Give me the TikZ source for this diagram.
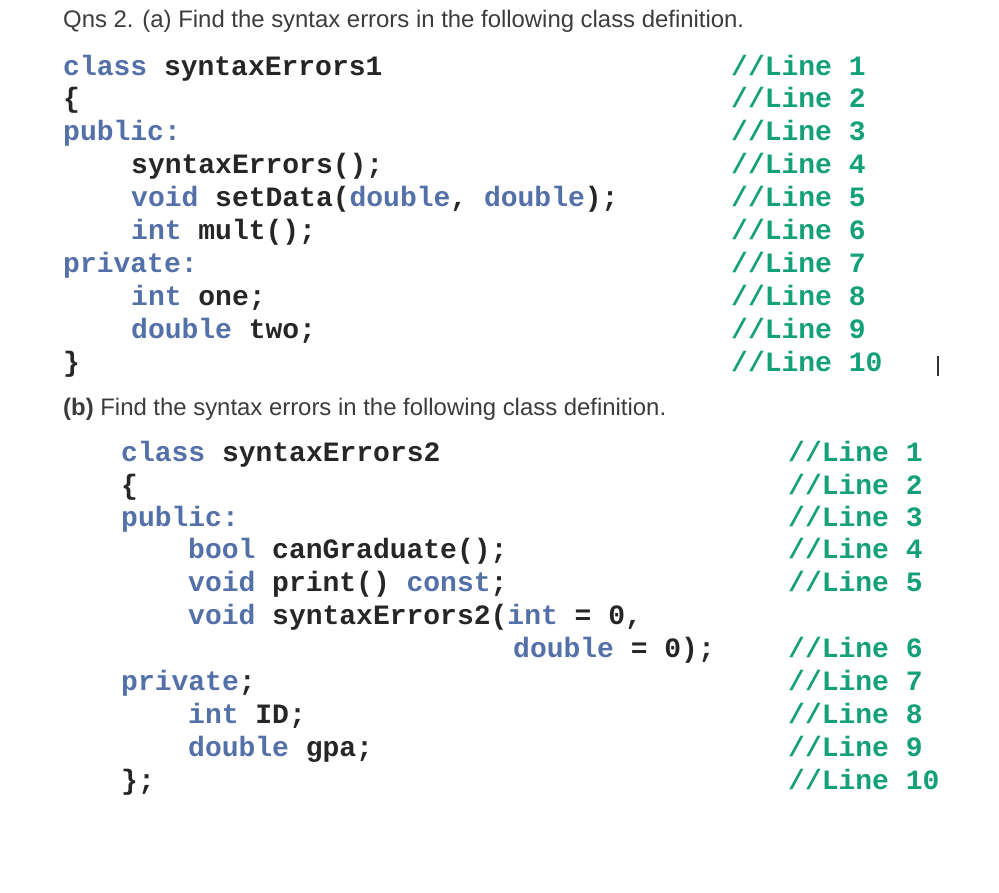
\documentclass[tikz,border=0pt]{standalone}
\usepackage{fontspec}
\setmainfont{Liberation Sans}
\setmonofont{Liberation Mono}
\definecolor{kw}{RGB}{84,112,168}
\definecolor{cm}{RGB}{20,160,120}
\definecolor{hd}{RGB}{60,60,60}
\newcommand{\kw}[1]{\textcolor{kw}{#1}}
\tikzset{code/.style={anchor=base west,inner sep=0pt,text=black!85,font=\fontsize{28}{28}\ttfamily\bfseries},
 cmt/.style={code,text=cm},
 head/.style={anchor=base west,inner sep=0pt,font=\fontsize{23.9}{24}\selectfont,text=hd}}
\begin{document}
\begin{tikzpicture}[x=1pt,y=-1pt]
\useasboundingbox[fill=white] (0,0) rectangle (999,893);
\node[head] (h1) at (63,28) {Qns 2. (a) Find the syntax errors in the following class definition.};
\def\d{8}
\node[code] (a1) at (63,68+\d) {\kw{class} syntaxErrors1};
\node[code] (a2) at (63,100+\d) {\{};
\node[code] (a3) at (63,133+\d) {\kw{public:}};
\node[code] (a4) at (131,166+\d) {syntaxErrors();};
\node[code] (a5) at (131,199+\d) {\kw{void} setData(\kw{double}, \kw{double});};
\node[code] (a6) at (131,232+\d) {\kw{int} mult();};
\node[code] (a7) at (63,265+\d) {\kw{private:}};
\node[code] (a8) at (131,298+\d) {\kw{int} one;};
\node[code] (a9) at (131,331+\d) {\kw{double} two;};
\node[code] (a10) at (63,364+\d) {\}};
\foreach \i/\y in {1/68,2/100,3/133,4/166,5/199,6/232,7/265,8/298,9/331,10/364}
  \node[cmt] (ca\i) at (731,\y+\d) {//Line \i};
\node[inner sep=0pt,minimum width=1.5pt,minimum height=20pt,fill=black!80] (cur) at (938,366) {};
\node[head] (h2) at (63,415) {\textbf{(b)} Find the syntax errors in the following class definition.};
\node[code] (b1) at (121,453+\d) {\kw{class} syntaxErrors2};
\node[code] (b2) at (121,486+\d) {\{};
\node[code] (b3) at (121,518+\d) {\kw{public:}};
\node[code] (b4) at (188,550+\d) {\kw{bool} canGraduate();};
\node[code] (b5) at (188,583+\d) {\kw{void} print() \kw{const};};
\node[code] (b6) at (188,616+\d) {\kw{void} syntaxErrors2(\kw{int} = 0,};
\node[code] (b7) at (513,649+\d) {\kw{double} = 0);};
\node[code] (b8) at (121,682+\d) {\kw{private};};
\node[code] (b9) at (188,715+\d) {\kw{int} ID;};
\node[code] (b10) at (188,748+\d) {\kw{double} gpa;};
\node[code] (b11) at (121,781+\d) {\};};
\foreach \i/\y in {1/453,2/486,3/518,4/550,5/583,6/649,7/682,8/715,9/748,10/781}
  \node[cmt] (cb\i) at (788,\y+\d) {//Line \i};
\end{tikzpicture}
\end{document}
